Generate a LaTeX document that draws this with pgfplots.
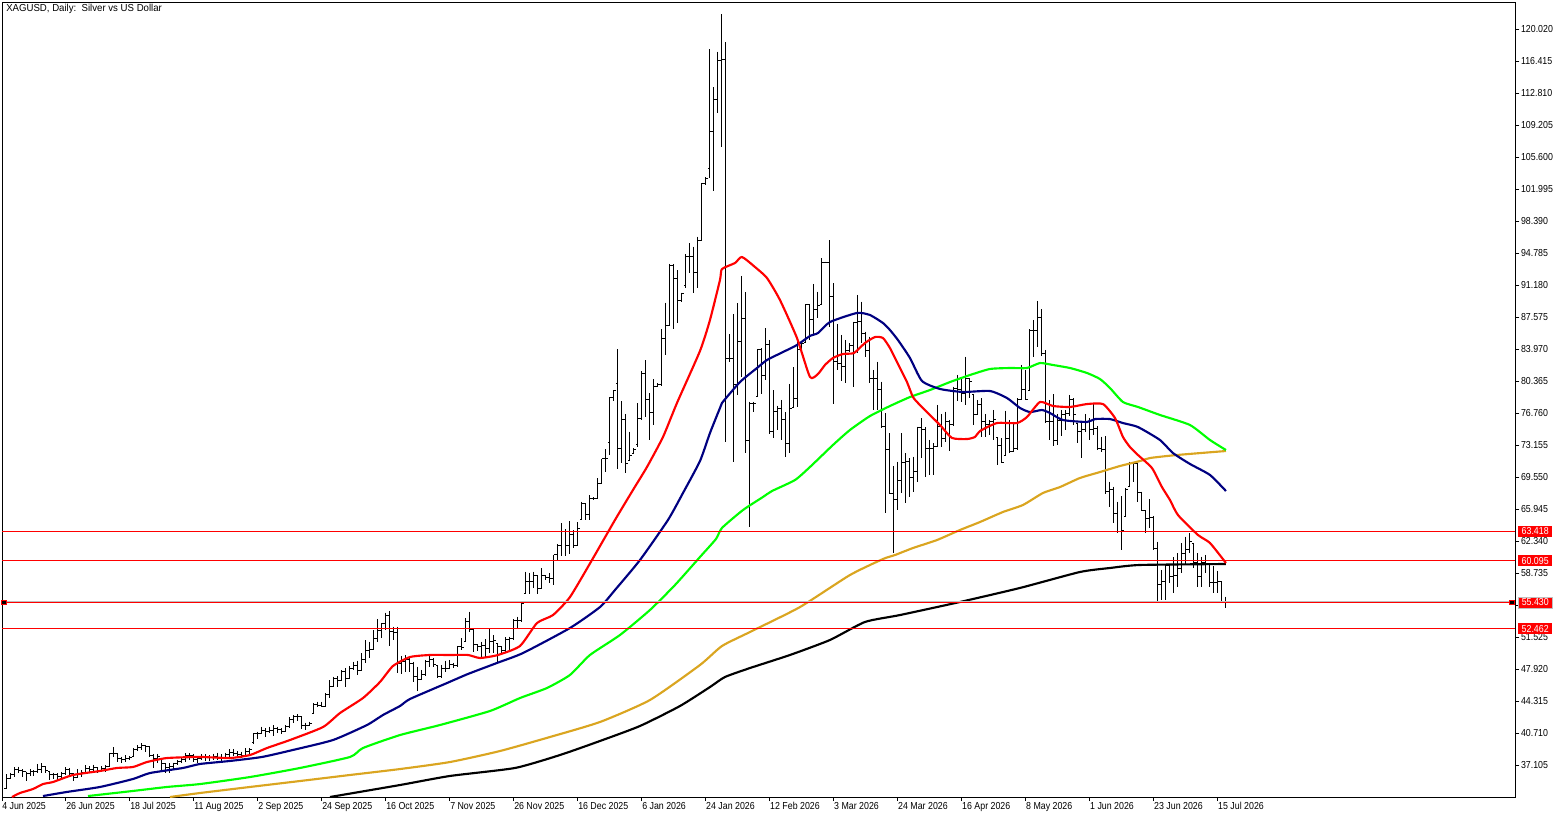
\documentclass[border=0pt]{standalone}
\usepackage{fontspec}
\setmainfont{Liberation Sans}
\newfontfamily\numf[FakeStretch=0.87]{Liberation Sans}
\newfontfamily\titf[FakeStretch=0.95]{Liberation Sans}
\usepackage{pgfplots}
\usepackage{pgfplotstable}
\pgfplotsset{compat=1.18}
\definecolor{mared}{RGB}{255,0,0}
\definecolor{manavy}{RGB}{0,0,128}
\definecolor{magreen}{RGB}{0,255,0}
\definecolor{magold}{RGB}{218,165,32}
\pgfplotstableread{
i o h l c
0 34.48 36.09 34.37 35.61
1 35.61 36.24 35.57 36.09
2 36.09 36.84 35.79 36.62
3 36.62 36.92 36.17 36.54
4 36.54 36.62 35.79 36.36
5 36.36 36.36 35.34 36.17
6 36.17 36.62 35.87 36.36
7 36.36 36.54 35.87 36.36
8 36.36 37.22 36.17 36.62
9 36.62 37.30 36.24 36.99
10 36.92 36.92 36.17 36.54
11 36.36 36.36 35.42 35.98
12 35.98 36.24 35.49 35.98
13 35.98 36.17 35.42 35.79
14 35.79 36.36 35.49 36.17
15 36.17 36.84 35.98 36.62
16 36.62 36.73 35.98 36.17
17 36.17 36.17 35.34 35.72
18 35.72 36.62 35.61 36.17
19 36.17 36.54 35.79 36.24
20 36.24 37.07 36.17 36.73
21 36.73 36.99 36.36 36.62
22 36.62 37.14 36.36 36.84
23 36.84 36.84 36.24 36.54
24 36.54 36.99 36.36 36.73
25 36.73 37.11 36.36 36.99
26 36.99 38.50 36.92 38.35
27 38.35 39.10 38.05 38.35
28 38.35 38.35 37.48 37.86
29 37.86 38.05 37.37 37.75
30 37.75 38.23 37.48 37.86
31 37.86 38.12 37.67 37.97
32 38.05 38.98 38.05 38.80
33 38.80 39.36 38.72 39.10
34 39.10 39.55 38.80 39.25
35 39.25 39.36 38.61 39.17
36 39.17 39.25 37.97 38.23
37 38.23 38.35 36.73 37.86
38 37.86 38.35 37.30 38.05
39 37.86 37.86 36.54 37.30
40 37.30 37.30 36.17 36.84
41 36.84 37.30 36.24 36.99
42 36.99 37.37 36.62 37.30
43 37.30 37.67 37.11 37.48
44 37.48 37.86 37.30 37.67
45 37.67 38.42 37.48 38.12
46 38.12 38.42 37.67 38.23
47 38.23 38.35 37.48 37.75
48 37.75 38.05 37.37 37.86
49 37.86 38.34 37.67 38.00
50 38.00 38.30 37.50 37.90
51 37.90 38.20 37.60 38.00
52 38.00 38.40 37.70 38.10
53 38.10 38.50 37.70 37.90
54 37.90 38.30 37.50 38.00
55 38.00 38.50 37.80 38.30
56 38.30 38.90 38.00 38.50
57 38.50 38.90 38.10 38.40
58 38.40 38.70 38.00 38.30
59 38.30 38.60 37.90 38.20
60 38.20 38.98 38.10 38.60
61 38.60 38.98 38.20 38.90
62 39.60 40.67 39.47 40.60
63 40.60 40.86 40.00 40.67
64 40.67 41.42 40.56 40.97
65 40.97 41.23 40.29 40.86
66 40.86 41.42 40.67 40.97
67 40.97 41.61 40.37 41.23
68 41.23 41.42 40.75 41.05
69 41.05 41.23 40.60 40.86
70 40.86 41.61 40.86 41.42
71 41.42 42.47 41.23 42.25
72 42.25 42.74 41.87 42.55
73 42.55 42.85 42.10 42.55
74 42.55 42.55 41.12 41.50
75 41.50 41.87 41.05 41.61
76 41.61 41.98 41.50 41.80
77 42.92 44.05 42.92 43.97
78 43.97 44.24 43.67 43.86
79 43.86 44.24 43.67 43.75
80 43.75 45.18 43.60 45.10
81 45.10 46.68 44.61 45.93
82 45.93 47.05 45.93 46.87
83 46.87 47.13 45.85 46.68
84 46.68 47.80 46.68 47.62
85 47.62 47.99 45.85 46.87
86 46.87 48.26 46.87 47.99
87 47.99 48.74 47.80 48.37
88 48.37 48.86 47.24 47.73
89 47.73 49.68 47.73 49.00
90 49.00 51.18 48.63 50.06
91 50.06 51.00 49.12 50.13
92 50.13 52.31 50.06 51.37
93 51.37 53.51 51.00 52.31
94 52.31 53.10 51.38 53.07
95 53.07 54.26 52.31 54.00
96 54.00 54.45 50.52 52.13
97 52.13 52.69 51.19 52.00
98 52.00 52.69 47.44 48.49
99 48.49 49.39 47.36 48.75
100 48.75 49.50 47.62 48.94
101 48.94 49.31 47.62 48.56
102 48.56 48.75 46.50 47.06
103 47.06 48.19 45.48 46.69
104 46.69 47.81 46.69 47.25
105 47.25 48.94 47.14 48.75
106 48.75 49.50 48.19 48.94
107 48.94 49.13 48.19 48.38
108 48.26 48.26 46.87 47.06
109 47.06 48.38 46.87 48.00
110 48.00 48.87 47.62 48.00
111 48.00 48.94 48.00 48.38
112 48.38 48.64 48.00 48.26
113 48.26 50.52 48.19 50.44
114 50.44 51.38 50.07 50.37
115 51.00 53.63 51.00 53.26
116 53.26 54.38 52.13 52.39
117 52.39 52.51 49.88 50.63
118 50.63 50.63 49.99 50.44
119 50.44 51.00 49.31 50.52
120 50.52 51.27 49.24 50.25
121 50.25 52.39 49.69 51.00
122 51.00 51.76 49.69 51.12
123 50.82 50.82 48.75 50.44
124 50.44 50.44 49.69 49.99
125 49.99 51.49 49.88 51.27
126 51.27 51.57 50.07 51.38
127 51.38 53.52 51.19 53.37
128 53.37 53.82 52.51 53.37
129 53.37 55.51 53.26 55.32
130 56.45 58.89 56.45 57.76
131 57.76 58.78 56.38 57.76
132 57.76 58.89 57.01 58.51
133 58.51 58.51 56.38 57.01
134 57.01 59.27 57.01 58.40
135 58.40 58.51 57.95 58.25
136 58.25 58.70 57.58 58.14
137 58.14 60.77 57.39 60.77
138 60.77 62.01 60.13 61.78
139 61.78 64.33 60.65 63.40
140 63.40 63.66 60.65 61.89
141 61.89 64.59 60.87 63.02
142 63.02 63.58 61.55 61.89
143 61.89 64.48 61.89 63.80
144 64.71 66.77 64.71 66.51
145 66.51 66.59 64.71 65.38
146 65.38 67.52 64.71 67.15
147 67.15 67.26 66.96 67.15
148 67.15 69.40 67.15 68.84
149 68.84 71.58 68.84 71.58
150 71.58 72.67 70.15 71.65
151 73.46 78.53 72.03 78.53
152 78.53 79.35 78.15 79.28
153 80.10 83.97 70.45 72.78
154 72.78 78.11 71.09 76.05
155 76.05 76.65 70.04 71.09
156 71.39 74.66 71.39 72.03
157 72.22 72.78 72.22 72.67
158 73.23 77.85 72.89 76.16
159 76.16 81.49 75.97 81.23
160 81.23 82.73 76.35 78.30
161 78.30 78.98 73.72 76.84
162 76.84 80.55 75.41 79.73
163 79.73 80.10 79.65 79.92
164 79.92 86.22 79.80 85.17
165 85.17 89.19 83.30 86.67
166 86.67 93.55 86.67 93.43
167 93.43 93.55 86.22 91.93
168 91.93 92.87 86.86 89.38
169 89.38 90.32 89.30 90.24
170 91.18 94.67 90.80 94.37
171 94.37 95.87 92.57 94.37
172 94.37 95.50 90.32 92.61
173 92.61 96.63 90.80 96.18
174 96.18 102.64 96.18 102.64
175 102.64 103.31 102.45 103.20
176 104.33 117.73 103.20 108.46
177 108.46 113.45 101.81 112.10
178 112.10 117.47 110.52 116.53
179 116.53 121.71 106.77 116.61
180 116.61 118.52 73.53 82.92
181 82.92 85.66 82.55 82.92
182 82.92 87.92 71.28 79.92
183 79.92 89.12 78.79 84.87
184 84.87 92.20 80.78 87.43
185 87.43 90.36 72.22 73.61
186 73.61 78.04 63.96 77.78
187 77.78 78.04 76.91 77.78
188 78.60 83.97 78.60 83.86
189 83.86 84.05 78.90 81.04
190 81.04 86.30 80.48 84.50
191 84.50 84.99 74.40 74.66
192 74.66 79.35 73.91 76.91
193 76.91 77.59 74.85 77.29
194 77.29 78.23 73.72 76.05
195 76.05 76.84 71.84 73.27
196 73.27 80.03 72.22 77.29
197 77.36 81.91 77.36 78.42
198 78.42 84.99 77.40 83.86
199 83.86 84.80 83.86 84.61
200 84.69 89.04 84.69 88.93
201 88.93 88.93 84.99 87.31
202 87.31 91.30 85.55 88.37
203 88.37 90.43 87.43 88.82
204 88.93 94.19 88.93 93.73
205 93.73 93.81 93.62 93.73
206 93.73 96.25 86.49 89.94
207 89.94 91.37 77.78 82.55
208 82.55 86.79 81.61 82.36
209 82.36 85.55 80.40 81.98
210 81.98 84.99 80.10 83.78
211 83.78 84.61 83.67 84.42
212 84.42 87.05 79.65 86.94
213 86.94 90.06 83.48 87.05
214 87.05 89.30 84.61 85.74
215 85.74 85.92 83.11 83.78
216 83.78 85.36 80.10 80.67
217 80.67 81.61 77.10 80.67
218 80.67 82.55 77.10 79.36
219 79.36 80.30 75.04 75.23
220 75.23 76.73 65.46 72.67
221 72.67 74.48 67.64 67.64
222 67.64 70.80 60.96 66.97
223 66.97 71.28 65.84 69.14
224 69.14 74.48 67.72 71.17
225 71.17 72.22 66.67 71.28
226 71.28 71.66 67.34 69.52
227 69.52 71.85 67.90 70.16
228 70.16 75.23 69.03 75.15
229 75.15 76.17 71.66 74.93
230 74.93 75.15 69.52 72.79
231 72.79 73.73 69.78 72.79
232 72.79 73.35 69.78 72.97
233 72.97 77.67 72.90 75.23
234 75.23 76.65 72.97 73.91
235 73.91 76.92 73.54 75.79
236 75.79 75.98 72.52 75.41
237 75.41 79.73 75.30 79.55
238 79.55 81.05 78.16 79.36
239 79.36 80.56 78.04 78.98
240 78.98 83.11 77.67 80.67
241 80.67 80.67 78.42 80.30
242 78.79 78.79 75.41 76.54
243 76.54 78.23 76.54 77.67
244 77.67 78.42 74.10 75.79
245 75.79 76.65 74.10 75.41
246 75.41 75.98 74.29 75.79
247 75.79 77.10 73.72 75.98
248 74.00 74.00 70.91 73.05
249 73.05 73.91 71.10 71.17
250 72.03 77.03 72.03 73.84
251 73.84 75.98 72.22 72.41
252 72.41 75.79 72.41 72.79
253 72.79 78.42 72.60 78.23
254 78.23 82.17 78.23 79.36
255 79.36 81.61 78.23 78.30
256 79.35 86.19 79.35 86.11
257 86.11 87.24 83.11 86.11
258 86.11 89.38 84.16 87.50
259 87.50 88.44 83.19 83.49
260 83.49 83.86 75.60 75.79
261 75.79 78.23 73.72 75.79
262 75.79 78.90 73.05 73.72
263 73.72 76.65 73.16 75.90
264 75.90 77.10 74.17 76.54
265 76.54 77.10 74.85 76.65
266 76.65 78.79 76.43 78.23
267 78.23 78.42 75.41 76.54
268 75.60 75.60 73.35 74.66
269 74.66 75.79 71.73 74.85
270 74.85 76.65 74.66 75.79
271 75.79 76.16 73.72 74.85
272 74.85 77.85 74.29 75.04
273 75.04 75.30 72.60 72.78
274 72.78 74.10 72.41 72.60
275 72.60 74.17 67.64 67.90
276 67.90 69.03 66.14 68.09
277 68.09 68.47 64.33 65.39
278 65.39 66.78 63.21 63.40
279 63.40 67.41 61.33 63.58
280 65.09 68.28 65.09 68.09
281 68.47 71.28 68.47 71.09
282 71.09 71.09 69.03 71.09
283 71.09 71.09 66.77 67.82
284 67.82 67.90 65.76 65.76
285 65.76 65.83 63.21 64.82
286 64.82 67.04 63.77 65.01
287 65.01 65.16 61.33 61.52
288 61.52 62.27 55.43 57.39
289 57.39 59.08 55.70 57.76
290 57.76 59.64 55.70 59.53
291 59.53 59.53 57.57 58.32
292 58.32 60.50 56.52 58.51
293 58.51 60.95 57.20 59.26
294 59.26 62.08 58.70 60.95
295 60.95 62.83 59.64 61.33
296 61.33 63.21 60.95 62.27
297 62.08 62.08 59.26 59.90
298 59.90 60.95 57.20 58.32
299 58.32 60.58 57.20 59.90
300 59.90 60.77 58.70 59.83
301 59.64 59.64 57.20 57.65
302 57.65 59.53 56.45 57.65
303 57.65 59.00 56.45 57.76
304 57.76 57.76 55.32 55.43
305 55.43 56.07 54.76 55.51
}\ohlc
\pgfplotstableread{
i p
1.5 33.50
3.5 33.95
6.75 34.40
9.25 34.96
11.75 35.19
16.75 35.98
23.5 36.43
27.75 36.77
31.75 36.88
35.25 37.44
40.25 37.89
48.5 38.01
56 37.89
61 38.23
65.25 39.02
71 39.92
79.25 41.38
83.5 42.96
89.25 44.65
93.5 46.46
96.75 48.26
101 49.27
106 49.50
111 49.50
115.5 49.50
118.5 49.16
123 49.50
128.5 50.51
132.75 53.10
136.75 54.00
141 56.03
146.5 60.20
152.25 64.71
156.75 68.09
160.25 70.68
164.25 74.06
167.75 77.89
173.5 83.75
176 87.24
178.5 91.75
179 92.98
182.25 93.66
184 94.34
187.25 93.21
190.25 91.97
193.5 89.49
197.75 85.21
201 80.82
203 81.16
204.75 82.17
206.75 82.96
209.25 83.41
212 83.52
214.75 84.65
217.25 85.32
219.25 85.21
221 84.08
222.75 82.51
225.25 80.25
226.75 78.56
228.5 77.66
233.5 75.41
236.5 73.95
240.25 73.83
242.25 74.06
243.5 74.73
247.75 75.63
252.75 75.63
255.25 76.31
258.5 78.00
261.75 77.55
266 77.44
270.25 77.77
274.25 77.77
277.25 76.20
279.25 74.06
281 72.93
283 72.03
286.5 70.56
289 68.42
291 66.96
293 65.27
298 63.02
301 62.12
305 59.86
}\mared
\pgfplotstableread{
i p
9.25 33.61
15.25 34.07
23.5 34.63
31.75 35.53
36 36.20
44.25 36.77
48.5 37.22
56 37.56
64 38.01
71.75 38.80
81.75 39.92
90.25 41.61
94.25 42.74
98.5 43.75
101 44.54
110.25 46.34
115.5 47.36
122.75 48.60
129.25 49.72
141 52.54
148.5 54.90
152.25 56.82
158.5 60.20
165.5 64.71
169.25 67.75
173.5 71.35
176 74.51
178.5 77.33
179 77.89
183.5 80.25
187.75 81.83
190.25 82.73
194.25 83.63
197.75 84.42
201 85.44
203 85.77
206 87.01
212.75 88.03
216 87.80
219.25 86.90
221 86.11
223 84.98
226 82.96
229 80.37
233.5 79.47
239.25 79.13
246 79.24
250.25 78.45
253.5 77.33
256 76.87
259 77.10
261 76.76
264.25 75.97
270.25 75.75
272.25 76.08
276 76.08
279.25 75.63
283 75.18
288.5 73.72
291.75 72.25
296 71.02
301 69.78
305 67.97
}\manavy
\pgfplotstableread{
i p
20.5 33.61
31.75 34.18
40.25 34.63
48.5 34.96
61 35.75
73.5 36.77
86 38.01
89.25 39.02
98.5 40.48
108.5 41.61
121 43.19
128.5 44.65
135.25 45.78
141 47.25
146 49.50
153.5 51.75
161 54.57
167.25 57.38
173.5 60.54
177.5 62.57
179 63.81
184.25 65.83
189.25 67.30
191.5 67.97
197.25 69.21
201 70.68
206.75 73.16
211 74.85
216 76.42
221 77.55
226 78.56
231 79.35
236 80.25
241 81.04
246 81.72
251 81.83
255.25 81.83
258.5 82.39
261.75 82.17
266 81.83
270.25 81.27
273.5 80.59
276 79.58
279.25 78.00
283 77.44
288.5 76.54
296 75.41
301 73.72
305 72.59
}\magreen
\pgfplotstableread{
i p
41 33.50
48.5 33.95
61 34.63
73.5 35.30
86 35.98
98.5 36.65
111 37.44
123.5 38.68
136 40.26
148.5 41.95
161 44.43
173.5 48.37
179 50.51
186 52.09
198.5 54.90
211 58.51
219.25 60.31
222.25 60.76
226.75 61.55
232.75 62.45
238.5 63.58
243.5 64.48
249.25 65.61
254.25 66.40
259.25 67.75
263.5 68.42
268.5 69.44
273.5 70.11
278.5 70.79
283.5 71.35
286 71.69
292.75 72.03
305 72.48
}\magold
\pgfplotstableread{
i p
81 33.50
98.5 34.85
111 35.87
127.25 36.77
138.5 38.23
148.5 39.81
158.5 41.50
168.5 43.75
176 45.89
179.75 47.02
186 48.03
196 49.50
206 51.19
214.75 53.22
223.5 54.00
238.5 55.47
253.5 57.05
268.5 58.85
276 59.30
283.5 59.64
305 59.75
}\mablack
\begin{document}
\begin{tikzpicture}[x=1pt,y=1pt]
\useasboundingbox (0,0) rectangle (1172.25pt,613.5pt);
\begin{axis}[
  at={(1.5pt,15.75pt)}, anchor=south west,
  scale only axis, width=1135.1pt, height=596.25pt,
  xmin=-1, xmax=377.375, ymin=33.50, ymax=123.065,
  axis line style={black,line width=0.75pt},
  clip=true,
  tick align=outside, major tick length=3pt,
  tick style={black,line width=0.75pt},
  xtick pos=lower, ytick pos=right,
  xtick={-1,15,31,47,63,79,95,111,127,143,159,175,191,207,223,239,255,271,287,303},
  xticklabels={4 Jun 2025,26 Jun 2025,18 Jul 2025,11 Aug 2025,2 Sep 2025,24 Sep 2025,16 Oct 2025,7 Nov 2025,26 Nov 2025,16 Dec 2025,6 Jan 2026,24 Jan 2026,12 Feb 2026,3 Mar 2026,24 Mar 2026,16 Apr 2026,8 May 2026,1 Jun 2026,23 Jun 2026,15 Jul 2026},
  x tick label style={anchor=north west,inner sep=0pt,font=\numf\fontsize{7.6}{9}\selectfont,yshift=-1pt},
  ytick={37.105,40.71,44.315,47.92,51.525,55.13,58.735,62.34,65.945,69.55,73.155,76.76,80.365,83.97,87.575,91.18,94.785,98.39,101.995,105.6,109.205,112.81,116.415,120.02},
  y tick label style={anchor=west,inner sep=0pt,xshift=1pt,font=\numf\fontsize{7.6}{9}\selectfont,/pgf/number format/fixed,/pgf/number format/fixed zerofill,/pgf/number format/precision=3,/pgf/number format/1000 sep={},/pgf/number format/assume math mode=true},
]
\addplot[draw=none,no marks,forget plot,error bars/.cd,y dir=minus,y explicit,error mark=none,error bar style={draw=black,line width=0.75pt}]
  table[x=i,y=h,y error expr=\thisrow{h}-\thisrow{l}]{\ohlc};
\addplot[draw=none,no marks,forget plot,error bars/.cd,x dir=minus,x fixed=0.45,error mark=none,error bar style={draw=black,line width=0.75pt}]
  table[x=i,y=o]{\ohlc};
\addplot[draw=none,no marks,forget plot,error bars/.cd,x dir=plus,x fixed=0.45,error mark=none,error bar style={draw=black,line width=0.75pt}]
  table[x=i,y=c]{\ohlc};
\addplot[black,line width=1.6pt,no marks,smooth,tension=0.35,line join=round] table[x=i,y=p]{\mablack};
\addplot[magold,line width=1.6pt,no marks,smooth,tension=0.35,line join=round] table[x=i,y=p]{\magold};
\addplot[magreen,line width=1.6pt,no marks,smooth,tension=0.35,line join=round] table[x=i,y=p]{\magreen};
\addplot[manavy,line width=1.6pt,no marks,smooth,tension=0.35,line join=round] table[x=i,y=p]{\manavy};
\addplot[mared,line width=1.6pt,no marks,smooth,tension=0.35,line join=round] table[x=i,y=p]{\mared};
\addplot[mared,line width=0.75pt,no marks] coordinates {(-1,63.418) (377.375,63.418)};
\addplot[mared,line width=0.75pt,no marks] coordinates {(-1,60.095) (377.375,60.095)};
\addplot[mared,line width=0.75pt,no marks] coordinates {(-1,52.462) (377.375,52.462)};
\addplot[gray!50,line width=0.75pt,no marks] coordinates {(-1,55.54) (377.375,55.54)};
\addplot[mared,line width=0.75pt,no marks] coordinates {(-1,55.43) (377.375,55.43)};
\addplot[only marks,mark=square*,mark size=1.6pt,mark options={draw=mared,fill=black,line width=0.75pt}] coordinates {(-0.5,55.43) (376.5,55.43)};
\coordinate (la) at (axis cs:378,63.418);
\coordinate (lb) at (axis cs:378,60.095);
\coordinate (lc) at (axis cs:378,55.43);
\coordinate (ld) at (axis cs:378,52.462);
\end{axis}
\tikzset{pl/.style={anchor=west,fill=mared,text=white,inner sep=0pt,minimum width=25.5pt,minimum height=8.25pt,font=\numf\fontsize{7.6}{9}\selectfont}}
\node[pl] at (la) {63.418};
\node[pl] at (lb) {60.095};
\node[pl,draw=gray!50,line width=0.5pt] at (lc) {55.430};
\node[pl] at (ld) {52.462};
\node[anchor=west,inner sep=0pt,font=\titf\fontsize{7.6}{9}\selectfont] at (4.5pt,606.75pt) {XAGUSD, Daily:\ \ Silver vs US Dollar};
\end{tikzpicture}
\end{document}
